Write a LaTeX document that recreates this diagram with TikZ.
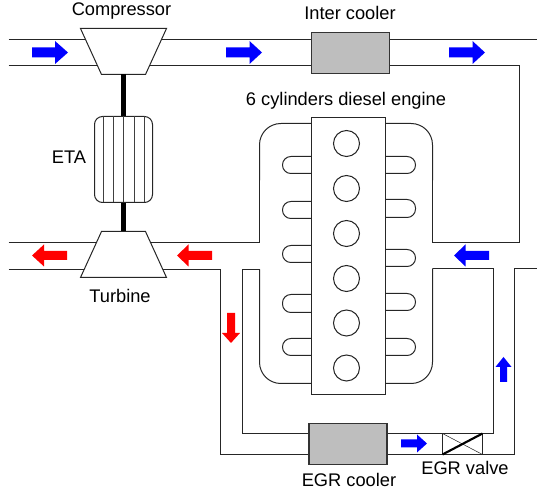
\documentclass[tikz,border=0pt]{standalone}
\usepackage{fontspec}
\setmainfont{Liberation Sans}
\definecolor{cool}{HTML}{BEBEBE}
\definecolor{fblue}{HTML}{0000FF}
\definecolor{fred}{HTML}{FF0000}
\tikzset{
  pipe/.style={line width=0.75pt,black!85,line join=miter},
  housing/.style={pipe,rounded corners=16pt},
  portline/.style={pipe,rounded corners=6.3pt},
  part/.style={line width=0.75pt,black!85,fill=white},
  coolerbox/.style={line width=1pt,black!80,fill=cool},
  shaft/.style={line width=3.2pt,black},
  lbl/.style={font=\fontsize{13.7}{16}\selectfont,text=black,inner sep=0pt},
}
% horizontal arrow: tail x, head base x, tip x, y, half shaft, half head
\newcommand\harrowshape[7]{\fill[#1] (#2,#5-#6) -- (#3,#5-#6) -- (#3,#5-#7) -- (#4,#5) -- (#3,#5+#7) -- (#3,#5+#6) -- (#2,#5+#6) -- cycle;}
% vertical arrow: tail y, head base y, tip y, x, half shaft, half head
\newcommand\varrowshape[7]{\fill[#1] (#5-#6,#2) -- (#5-#6,#3) -- (#5-#7,#3) -- (#5,#4) -- (#5+#7,#3) -- (#5+#6,#3) -- (#5+#6,#2) -- cycle;}
\newcommand\portleft[2]{\draw[portline] (311,#1) -- (282,#1) -- (282,#2) -- (311,#2);}
\newcommand\portright[2]{\draw[portline] (385,#1) -- (415,#1) -- (415,#2) -- (385,#2);}
\begin{document}
\begin{tikzpicture}[x=0.75pt,y=-0.75pt]
\useasboundingbox (0,0) rectangle (537,495);
\begin{scope}[shift={(0.5,0.5)}]
% intake pipes
\draw[pipe] (8,39) -- (537,39);
\draw[pipe] (8,65) -- (519,65) -- (519,242) -- (432,242) -- (432,180);
\draw[housing] (432,180) -- (432,123) -- (385,123);
% exhaust side
\draw[pipe] (8,242) -- (259,242) -- (259,180);
\draw[housing] (259,180) -- (259,123) -- (311,123);
\draw[pipe] (8,269) -- (220,269) -- (220,454) -- (514,454) -- (514,268) -- (537,268);
\draw[housing] (259,269) -- (259,383) -- (311,383);
\draw[housing] (432,268) -- (432,383) -- (385,383);
\draw[pipe] (259,269) -- (242,269) -- (242,433) -- (309,433);
\draw[pipe] (432,268) -- (493,268) -- (493,433) -- (386,433);
% compressor, turbine, shaft
\draw[part] (80,28) -- (166,28) -- (145,74) -- (101,74) -- cycle;
\draw[part] (101,231) -- (145,231) -- (166,277) -- (80,277) -- cycle;
\coordinate (compB) at (123,74);
\coordinate (turbT) at (123,231);
\coordinate (etaT) at (123,116);
\coordinate (etaB) at (123,202);
\draw[shaft] (compB) -- (etaT);
\draw[shaft] (etaB) -- (turbT);
\draw[part,rounded corners=6pt] (94,116) rectangle (152,202);
\foreach \x in {103,113,123,134,144}
  \draw[line width=0.75pt,black!75] (\x,116) -- (\x,202);
% coolers
\node[coolerbox,draw,minimum width=58.5pt,minimum height=30.5pt,inner sep=0pt] (inter) at (350,52.5) {};
\node[coolerbox,draw,minimum width=58.5pt,minimum height=30.5pt,inner sep=0pt] (egr) at (347.5,443.5) {};
% engine
\portleft{156}{173}\portleft{201}{218}\portleft{245}{262}\portleft{294}{312}\portleft{338}{355}
\portright{156}{173}\portright{199}{217}\portright{249}{266}\portright{293}{310}\portright{338}{355}
\draw[part] (311,117) rectangle (385,394);
\foreach \n/\y in {1/143,2/188,3/233,4/278,5/322.5,6/367.5}
  \node[draw,circle,line width=0.75pt,black!85,fill=white,minimum size=19.5pt,inner sep=0pt] (cyl\n) at (346,\y) {};
% valve
\draw[line width=0.4pt,black!85] (442,433) rectangle (482,454);
\draw[line width=0.4pt,black!85] (442,433) -- (482,454);
\draw[line width=1.6pt,black] (442,454) -- (482,433);
\end{scope}
% arrows
\harrowshape{fblue}{32}{55}{68}{52.5}{5}{11.5}
\harrowshape{fblue}{226}{249.5}{262}{52.5}{5}{11.5}
\harrowshape{fblue}{449}{472.5}{485}{52.5}{5}{11.5}
\harrowshape{fred}{67}{44}{32}{255.5}{4.5}{11}
\harrowshape{fred}{212}{188.5}{177}{255.5}{4.5}{11}
\harrowshape{fblue}{489}{465.5}{454}{255.5}{4.5}{11}
\harrowshape{fblue}{401}{417}{427}{443.5}{4}{9}
\varrowshape{fred}{313}{333}{343}{231}{4}{9}
\varrowshape{fblue}{382}{367}{357}{503.5}{3.5}{8}
% labels
\node[lbl] (tcomp) at (121.5,11) {Compressor};
\node[lbl] (tint) at (350,13) {Inter cooler};
\node[lbl] (teng) at (346,101) {6 cylinders diesel engine};
\node[lbl] (teta) at (69,157) {ETA};
\node[lbl] (ttur) at (120,296) {Turbine};
\node[lbl] (tegr) at (349,480) {EGR cooler};
\node[lbl] (tval) at (465,468) {EGR valve};
\end{tikzpicture}
\end{document}
